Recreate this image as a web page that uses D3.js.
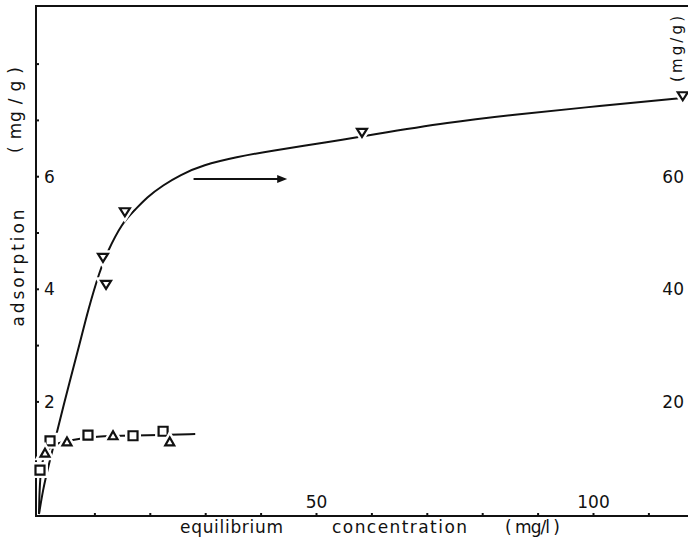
<!DOCTYPE html>
<html>
<head>
<meta charset="utf-8">
<script src="https://cdn.jsdelivr.net/npm/d3@7"></script>
<style>
  body { margin: 0; background: #fff; }
  svg { display: block; }
  text { font-family: "DejaVu Sans", sans-serif; fill: #111; }
</style>
</head>
<body>
<div class="chart"></div>
<script>
// big series, right axis (mg/g), measured points
var bigX = [11.55, 12.1, 15.5, 58.3, 116.2];
var bigY = [45.5, 40.7, 53.6, 67.7, 74.2];
// fitted curve drawn through big series
var bigCurveX = [0, 0.72, 1.62, 3.25, 5.6, 7.4, 8.84, 11.0, 12.27, 14.98, 17.33, 19.5, 22.4, 25.45, 29.6, 35.7, 41.7, 52.5, 59.7, 74.2, 85.6, 101.3, 116.2, 119.3];
var bigCurveY = [0, 4.3, 8.2, 14.6, 23.8, 30.4, 36.2, 43.3, 46.4, 51.7, 54.0, 56.3, 58.4, 60.2, 62.0, 63.4, 64.5, 66.1, 67.3, 69.6, 70.9, 72.5, 73.9, 74.2];

// small series, left axis (mg/g)
var squareX = [0.18, 1.99, 8.84, 16.97, 22.4];
var squareY = [0.78, 1.30, 1.40, 1.39, 1.47];
var triX = [1.08, 5.05, 13.36, 23.6];
var triY = [1.08, 1.28, 1.39, 1.28];
var smallCurveX = [0, 0.09, 0.36, 0.9, 1.99, 3.43, 5.6, 9.2, 14.6, 21.8, 28.2];
var smallCurveY = [0, 0.43, 0.82, 1.05, 1.19, 1.26, 1.31, 1.37, 1.39, 1.40, 1.42];

var xTicks = [10, 20, 30, 40, 50, 60, 70, 80, 90, 100, 110];
var xLabels = [50, 100];
var leftTicks = [1, 2, 3, 4, 5, 6, 7, 8];
var leftLabels = [2, 4, 6];
var rightTicks = [20, 40, 60];

var width = 688, height = 551;
var frame = { left: 36, top: 6, bottom: 516 };

var svg = d3.select('.chart').append('svg')
  .attr('width', width).attr('height', height);

var x = d3.scaleLinear().domain([0, 100]).range([39, 593]);
var y = d3.scaleLinear().domain([0, 8]).range([514, 63.6]);
var yR = d3.scaleLinear().domain([0, 80]).range([514, 63.6]);

// frame lines
svg.append('path')
  .attr('d', 'M' + width + ',' + frame.top + 'H' + frame.left + 'V' + frame.bottom + 'H' + width)
  .attr('fill', 'none').attr('stroke', '#111').attr('stroke-width', 2);

// axes
var xAxis = svg.append('g').attr('transform', 'translate(0,' + frame.bottom + ')')
  .call(d3.axisTop(x).tickValues(xTicks).tickSize(3).tickPadding(5)
    .tickFormat(function(d) { return xLabels.indexOf(d) >= 0 ? d : ''; }));

var yAxis = svg.append('g').attr('transform', 'translate(' + frame.left + ',0)')
  .call(d3.axisRight(y).tickValues(leftTicks).tickSize(3).tickPadding(5)
    .tickFormat(function(d) { return leftLabels.indexOf(d) >= 0 ? d : ''; }));

var yRAxis = svg.append('g').attr('transform', 'translate(684,0)')
  .call(d3.axisLeft(yR).tickValues(rightTicks).tickSize(0).tickPadding(0));

[xAxis, yAxis, yRAxis].forEach(function(g) {
  g.select('.domain').remove();
  g.selectAll('line').attr('stroke', '#111').attr('stroke-width', 2);
  g.selectAll('text').style('font-family', '"DejaVu Sans", sans-serif')
    .style('font-size', '17px').attr('fill', '#111');
});
yAxis.selectAll('text').attr('dy', '0.36em');
yRAxis.selectAll('text').attr('dy', '0.36em');

// curves
var line = d3.line().curve(d3.curveBasis);

svg.append('path')
  .attr('d', line(bigCurveX.map(function(d, i) { return [x(d), yR(bigCurveY[i])]; })))
  .attr('fill', 'none').attr('stroke', '#111').attr('stroke-width', 2);

svg.append('path')
  .attr('d', line(smallCurveX.map(function(d, i) { return [x(d), y(smallCurveY[i])]; })))
  .attr('fill', 'none').attr('stroke', '#111').attr('stroke-width', 2);

// arrow pointing to right axis
var arrow = { x1: 27.9, x2: 44.8, y: 5.95 };
svg.append('line')
  .attr('x1', x(arrow.x1)).attr('x2', x(arrow.x2) - 6)
  .attr('y1', y(arrow.y)).attr('y2', y(arrow.y))
  .attr('stroke', '#111').attr('stroke-width', 2);
svg.append('path')
  .attr('d', 'M0,0L-10,-4L-10,4Z')
  .attr('transform', 'translate(' + x(arrow.x2) + ',' + y(arrow.y) + ')')
  .attr('fill', '#111');

// markers
var triDown = 'M-5,-4L5,-4L0,4Z';
var triUp = 'M-4.5,3.5L4.5,3.5L0,-4.5Z';
var square = 'M-4.5,-4.5H4.5V4.5H-4.5Z';

var drawMarkers = function(xs, ys, sx, sy, shape) {
  var pts = xs.map(function(d, i) { return [sx(d), sy(ys[i])]; });
  // white halo breaks the line round each marker
  svg.append('g').selectAll('path').data(pts).enter().append('path')
    .attr('d', shape)
    .attr('transform', function(d) { return 'translate(' + d[0] + ',' + d[1] + ')'; })
    .attr('fill', '#fff').attr('stroke', '#fff').attr('stroke-width', 7);
  svg.append('g').selectAll('path').data(pts).enter().append('path')
    .attr('d', shape)
    .attr('transform', function(d) { return 'translate(' + d[0] + ',' + d[1] + ')'; })
    .attr('fill', '#fff').attr('stroke', '#111').attr('stroke-width', 2.2);
};

drawMarkers(bigX, bigY, x, yR, triDown);
drawMarkers(squareX, squareY, x, y, square);
drawMarkers(triX, triY, x, y, triUp);

// axis titles
var title = function(txt, tx, ty, len, rot, size) {
  svg.append('text').text(txt)
    .attr('transform', 'translate(' + tx + ',' + ty + ')' + (rot ? ' rotate(-90)' : ''))
    .attr('text-anchor', rot ? 'middle' : 'start').style('font-size', (size || 17) + 'px')
    .attr('textLength', len).attr('lengthAdjust', 'spacing');
};
title('( mg / g )', 21, 110, 86, true);
title('adsorption', 24, 268, 117, true);
title('(mg/g)', 682, 49, 66, true, 15);
title('equilibrium', 180, 533, 103, false);
title('concentration', 332, 533, 135, false);
title('( mg/l )', 505, 533, 55, false);
</script>
</body>
</html>
